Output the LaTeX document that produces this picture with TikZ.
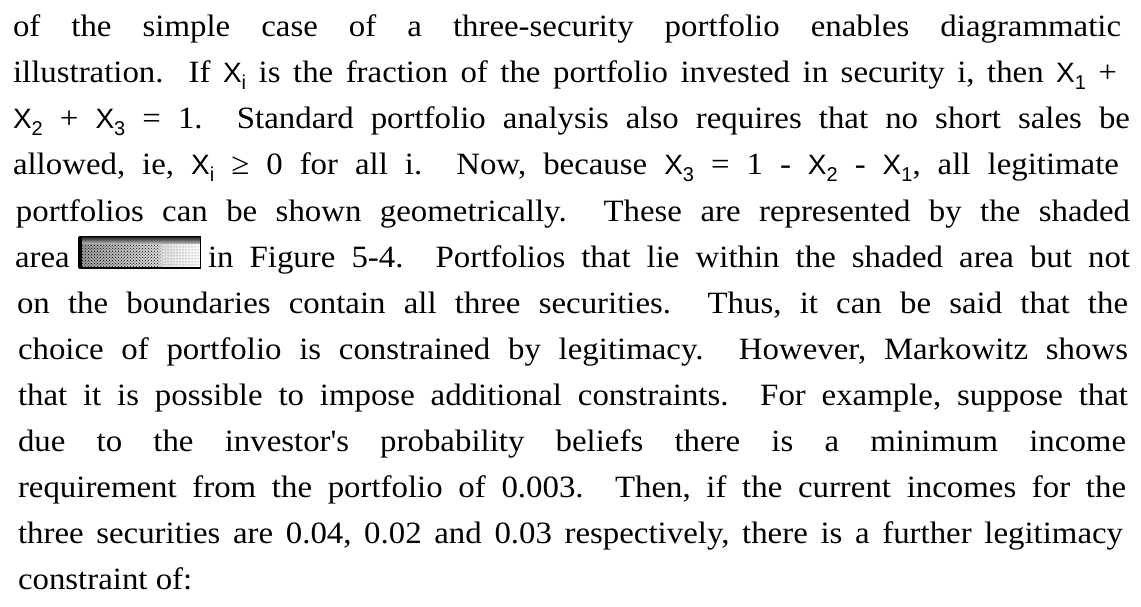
\documentclass[tikz,border=0pt]{standalone}
\usepackage{fontspec}
\setmainfont{Liberation Serif}[FakeStretch=1.06]
\newfontfamily\xsans{Liberation Sans}
\usetikzlibrary{patterns}
% variable letter and its index, both set in a sans face
\newcommand\Xv{{\xsans\fontsize{28}{28}\selectfont X}}
\newcommand\idx[1]{\raisebox{-7pt}{\xsans\fontsize{20}{20}\selectfont #1}}
\newcommand\Xs[1]{\Xv\idx{#1}}
% one justified line of the paragraph, stretched to the given width
\newcommand\jline[2]{\makebox[#1pt][s]{#2}}

\tikzset{
  ln/.style={anchor=base west, inner sep=0pt, outer sep=0pt,
             font=\fontsize{31}{31}\selectfont\frenchspacing},
  shadedarea/.style={inner sep=0pt, minimum width=120pt, minimum height=31pt,
             left color=gray!80, right color=white, anchor=south west}
}

\begin{document}
\begin{tikzpicture}[x=1pt, y=1pt]
\useasboundingbox (0,0) rectangle (1141,-607);
\fill[white] (0,0) rectangle (1141,-607);

\node[ln] (l1) at (13,-37)  {\jline{1108}{of the simple case of a three-security portfolio enables diagrammatic}};
\node[ln] (l2) at (13,-83)  {\jline{1104}{illustration.~ If \Xs{i} is the fraction of the portfolio invested in security i, then \Xs{1} +}};
\node[ln] (l3) at (13,-129) {\jline{1117}{\Xs{2} + \Xs{3} = 1.~ Standard portfolio analysis also requires that no short sales be}};
\node[ln] (l4) at (13,-175) {\jline{1106}{allowed, ie, \Xs{i} ≥ 0 for all i.~ Now, because \Xs{3} = 1 - \Xs{2} - \Xs{1}, all legitimate}};
\node[ln] (l5) at (16,-221) {\jline{1114}{portfolios can be shown geometrically.~ These are represented by the shaded}};

% line with the small shaded-area sample
\node[ln] (l6a) at (15,-267) {area};
\node[shadedarea] (icon) at (80,-268) {};
\fill[pattern=crosshatch dots, pattern color=black]
  (icon.south west) rectangle ([xshift=-40pt]icon.north east);
\fill[pattern=dots, pattern color=black!70]
  ([xshift=-40pt]icon.south east) rectangle (icon.north east);
\shade[top color=black!90, bottom color=gray!55]
  ([yshift=-7pt]icon.north west) rectangle (icon.north east);
\draw[line width=3.5pt] (icon.south west) -- (icon.north west);
\draw[line width=2.4pt] (icon.south west) -- (icon.south east);
\draw[line width=1.5pt] (icon.south west) rectangle (icon.north east);
\node[ln] (l6b) at (208,-267) {\jline{922}{in Figure 5-4.~ Portfolios that lie within the shaded area but not}};

\node[ln] (l7)  at (17,-313) {\jline{1111}{on the boundaries contain all three securities.~ Thus, it can be said that the}};
\node[ln] (l8)  at (18,-359) {\jline{1110}{choice of portfolio is constrained by legitimacy.~ However, Markowitz shows}};
\node[ln] (l9)  at (18,-405) {\jline{1110}{that it is possible to impose additional constraints.~ For example, suppose that}};
\node[ln] (l10) at (18,-451) {\jline{1108}{due to the investor\textquotesingle s probability beliefs there is a minimum income}};
\node[ln] (l11) at (18,-497) {\jline{1108}{requirement from the portfolio of 0.003.~ Then, if the current incomes for the}};
\node[ln] (l12) at (18,-543) {\jline{1105}{three securities are 0.04, 0.02 and 0.03 respectively, there is a further legitimacy}};
\node[ln] (l13) at (18,-589) {constraint of:};
\end{tikzpicture}
\end{document}
